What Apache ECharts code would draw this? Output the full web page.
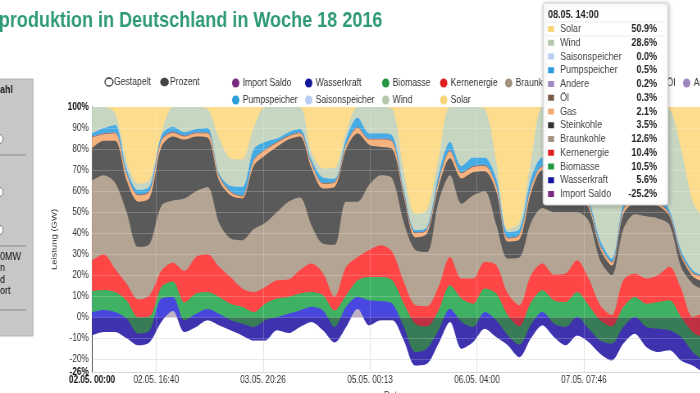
<!doctype html>
<html>
<head>
<meta charset="utf-8">
<title>Stromproduktion in Deutschland in Woche 18 2016</title>
<style>
  html, body { margin: 0; padding: 0; background: #fff; overflow: hidden; }
  /* Vorlage ist horizontal gestaucht: breiter zeichnen, dann skalieren */
  #main { width: 854px; height: 393px; transform: scaleX(0.82); transform-origin: 0 0; }
</style>
</head>
<body>
<div id="main"></div>
<script src="https://cdn.jsdelivr.net/npm/echarts@6/dist/echarts.min.js"></script>
<script>
// Stunden ab 02.05.2016 00:00, Anteile in Prozent der Last
var hours = [0, 3, 6, 9, 12, 15, 18, 21, 24, 27, 30, 33, 36, 39, 42, 45, 48, 51, 54, 57, 60, 63, 66, 69, 72, 75, 78, 81, 84, 87, 90, 93, 96, 99, 102, 105, 108, 111, 114, 117, 120, 123, 126, 129, 132, 135, 138, 141, 144, 147, 150, 153, 156, 158];

var importSaldo = [-8.6, -7, -7, -10, -13.3, -11.7, -2.2, 3, -7, -4.6, -1.4, -3.8, -6.2, -8.6, -11, -11, -6.2, -7.5, -4.6, -2.2, -6.2, -12, -4.6, 4, -3.8, -1.4, -1.4, -11, -22.9, -22.1, -12.5, -2.2, -14.9, -11.7, -5.4, -9.4, -13.3, -19, -10, -3.8, -9.4, -13.3, -8.6, -11.7, -17.3, -20.5, -12.5, -7.8, -14.1, -16.5, -15.7, -20.5, -22.9, -25.2];
var wasserkraft = [11.1, 10.5, 9.5, 9.4, 5.5, 5.5, 11.1, 6.7, 5.6, 6.3, 5.4, 5.5, 4.8, 5.6, 6.4, 9.6, 6.2, 9.2, 7.9, 7.2, 9.5, 7.4, 9.6, 5.7, 11.9, 9, 7.9, 6.4, 6.4, 7.2, 6.3, 6.3, 12.7, 7.1, 7.9, 8, 4.7, 6, 6.5, 6.3, 6.4, 8.7, 8.8, 6.3, 6.3, 8, 7.9, 8, 9.5, 11.1, 9.5, 11.1, 6.4, 5.6];
var biomasse = [10, 9.5, 9.5, 8.6, 7.8, 6.7, 5.5, 7.3, 8.4, 9.6, 8, 8, 7.9, 8, 7.1, 7.9, 8.9, 8, 8, 7, 7.2, 7.9, 5.5, 7.9, 11.1, 11.6, 11.1, 11.1, 13.5, 10.6, 9.5, 11.1, 11.1, 11.1, 11.2, 12.7, 9.6, 8.7, 10.5, 10.4, 11.1, 11.9, 11.8, 11.1, 9.6, 8.2, 9.5, 9.5, 11.1, 12.7, 14.3, 9.6, 9.5, 10.5];
var kernenergie = [14.5, 17, 11, 8, 8.5, 10, 7.6, 9, 15, 17.4, 18, 14.3, 12.5, 8.7, 9.5, 7.9, 8.7, 8.3, 11.1, 13.6, 10.5, 6.4, 13.5, 11.1, 12.8, 15.1, 13.5, 10.3, 8.7, 9.5, 11.1, 13.5, 9.5, 11.9, 12.6, 13.5, 10.3, 10, 13, 12.7, 12.2, 13.5, 15.1, 12.7, 7.1, 5.3, 12.7, 11.1, 11.9, 12.7, 15.9, 13.5, 7.2, 10.4];
var braunkohle = [38, 37.5, 41, 34, 25, 24.5, 31, 29.5, 34.5, 31.3, 32, 21, 18.5, 23, 30, 30.6, 32.4, 37, 34.6, 18.2, 14, 24.8, 31, 26.3, 31, 33.3, 34.9, 28.2, 26.3, 25.8, 40.6, 38.9, 35.6, 39.6, 33.7, 19.2, 16.7, 22.8, 25, 26.4, 29.7, 29.2, 22.9, 27.6, 21.3, 19, 24.4, 28.2, 29.6, 27, 20, 10.3, 15.8, 12.6];
var steinkohle = [15.5, 16.5, 20, 15, 21.5, 22, 28, 30.5, 28, 26, 23.5, 20, 20.5, 19.8, 30, 32, 31, 29.5, 29, 27.2, 26.3, 27.5, 25, 32.5, 19, 13.4, 14, 12.3, 6, 8.8, 7, 8, 12, 11, 9.5, 16, 8, 8.5, 14, 18, 18, 12, 8, 6, 5.5, 4.5, 7, 5, 6, 6, 4, 5, 3.5, 3.5];
var gas = [5, 3, 3.5, 3, 3, 3, 3, 1.8, 1.5, 1.5, 2, 2, 1.5, 1, 2.5, 2.5, 2, 1.5, 1.5, 2, 2.2, 2, 2, 2.5, 2.5, 3.5, 3.5, 1.7, 2, 1.7, 2.5, 3.4, 2.5, 2.5, 2.5, 2.5, 1.5, 2, 2.5, 1.5, 2.5, 2.5, 1.5, 1.5, 1.5, 1.5, 2, 2.5, 2.5, 1.5, 1, 1, 1.5, 2.1];
var oel = [0.3, 0.3, 0.3, 0.3, 0.3, 0.3, 0.3, 0.3, 0.3, 0.3, 0.3, 0.3, 0.3, 0.3, 0.3, 0.3, 0.3, 0.3, 0.3, 0.3, 0.3, 0.3, 0.3, 0.3, 0.3, 0.3, 0.3, 0.3, 0.3, 0.3, 0.3, 0.3, 0.3, 0.3, 0.3, 0.3, 0.3, 0.3, 0.3, 0.3, 0.3, 0.3, 0.3, 0.3, 0.3, 0.3, 0.3, 0.3, 0.3, 0.3, 0.3, 0.3, 0.3, 0.3];
var andere = [0.2, 0.2, 0.2, 0.2, 0.2, 0.2, 0.2, 0.2, 0.2, 0.2, 0.2, 0.2, 0.2, 0.2, 0.2, 0.2, 0.2, 0.2, 0.2, 0.2, 0.2, 0.2, 0.2, 0.2, 0.2, 0.2, 0.2, 0.2, 0.2, 0.2, 0.2, 0.2, 0.2, 0.2, 0.2, 0.2, 0.2, 0.2, 0.2, 0.2, 0.2, 0.2, 0.2, 0.2, 0.2, 0.2, 0.2, 0.2, 0.2, 0.2, 0.2, 0.2, 0.2, 0.2];
var pumpspeicher = [1.5, 2.5, 3.5, 2, 2, 2, 2, 2.3, 1.5, 1.5, 2, 1, 2.5, 4, 5, 3.5, 1.5, 1.5, 1.5, 1.5, 2.5, 1.5, 2.5, 4.5, 2.5, 2.5, 2.5, 1.5, 1, 1, 3, 4, 3, 4, 3.5, 3, 2.6, 2.5, 4, 4, 3, 2, 2, 1.7, 2.2, 1.5, 2.5, 3, 4, 3, 1.5, 1.5, 1, 0.5];
var saisonspeicher = [0, 0, 0, 0, 0, 0, 0, 0, 0, 0, 0, 0, 0, 0, 0, 0, 0, 0, 0, 0, 0, 0, 0, 0, 0, 0, 0, 0, 0, 0, 0, 0, 0, 0, 0, 0, 0, 0, 0, 0, 0, 0, 0, 0, 0, 0, 0, 0, 0, 0, 0, 0, 0, 0];
var wind = [12.5, 10, 5.5, 3.5, 3, 3, 0.5, 9.4, 12, 10.5, 9, 16.5, 13, 13, 10, 16.5, 15, 12, 10.5, 3.7, 4.3, 5, 3, 5, 12.5, 12.5, 12.5, 8, 7.5, 8, 7, 16.5, 28, 24, 23, 8, 1.4, 3, 8, 24, 26, 33, 30, 19.3, 29.3, 34, 18, 38, 39, 42, 48, 48, 32.5, 28.6];
var solar = [0, 0, 3, 26, 36.5, 34.5, 13, 0, 0, 0, 1, 15, 24.5, 25, 10, 0, 0, 0, 0, 21.3, 29.2, 29, 12, 0, 0, 0, 1, 31, 51, 49, 25, 0, 0, 0, 1, 26, 58, 55, 26, 0, 0, 0, 8, 25, 34, 38, 28, 2, 0, 0, 1, 20, 45, 50.9];

// Achsenbeschriftung (Minuten ab Start) und Gitter
var tickMinutes = [0, 1000, 2666, 4333, 6000, 7666];
var gridPercents = [-20, -10, 0, 10, 20, 30, 40, 50, 60, 70, 80, 90];

var SX = 0.82;
function X(v) { return v / SX; }
var FONT = '"Liberation Sans", Arial, sans-serif';

function fmtTime(min) {
    var d = new Date(Date.UTC(2016, 4, 2) + min * 60000);
    function p(n) { return (n < 10 ? '0' : '') + n; }
    return p(d.getUTCDate()) + '.' + p(d.getUTCMonth() + 1) + '. ' + p(d.getUTCHours()) + ':' + p(d.getUTCMinutes());
}

var importDef = { name: 'Import Saldo', data: importSaldo, color: '#7b2a82', area: 'rgba(40,0,60,0.3)' };
// Stapel ueber dem Import-Saldo, von unten nach oben
var layers = [
    { name: 'Wasserkraft', data: wasserkraft, color: '#15159e', area: '#4848e0' },
    { name: 'Biomasse', data: biomasse, color: '#22973f', area: '#3fb163' },
    { name: 'Kernenergie', data: kernenergie, color: '#e11f1f', area: '#ff4646' },
    { name: 'Braunkohle', data: braunkohle, color: '#a3927f', area: '#b3a493' },
    { name: 'Steinkohle', data: steinkohle, color: '#333333', area: '#5a5a5a' },
    { name: 'Gas', data: gas, color: '#f2ab72', area: '#f6b37f' },
    { name: 'Öl', data: oel, color: '#7a5a44', area: '#84654f' },
    { name: 'Andere', data: andere, color: '#9f88c0', area: '#a893c4' },
    { name: 'Pumpspeicher', data: pumpspeicher, color: '#2b9ddb', area: '#45ace3' },
    { name: 'Saisonspeicher', data: saisonspeicher, color: '#b8cdf2', area: '#bccff0' },
    { name: 'Wind', data: wind, color: '#b5c8af', area: '#c6d6c1' },
    { name: 'Solar', data: solar, color: '#f8d47a', area: '#fddc8e' }
];
var tooltipOrder = layers.slice().reverse().concat([importDef]);
var last = hours.length - 1;

// Jede Schicht fuellt von ihrer Unterkante bis 100 %; die naechste deckt den Rest ab
var series = [];
var lower = importSaldo.slice();
layers.forEach(function (L) {
    var edge = lower.slice();
    series.push({
        name: L.name,
        type: 'line',
        color: L.color,
        data: hours.map(function (h, j) { return [h * 60, edge[j]]; }),
        showSymbol: false,
        symbol: 'none',
        smooth: 0.3,
        lineStyle: { width: 0 },
        areaStyle: { color: L.area, opacity: 1, origin: 'end' },
        emphasis: { disabled: true },
        silent: true,
        z: 2
    });
    lower = lower.map(function (v, j) { return v + L.data[j]; });
});
series.push({
    name: importDef.name,
    type: 'line',
    color: importDef.color,
    data: hours.map(function (h, j) { return [h * 60, importSaldo[j]]; }),
    showSymbol: false,
    symbol: 'none',
    smooth: 0.3,
    lineStyle: { width: 0 },
    areaStyle: { color: importDef.area, opacity: 1, origin: 0 },
    emphasis: { disabled: true },
    silent: true,
    z: 3,
    // Gitterlinien schimmern durch die Flaechen
    markLine: {
        silent: true,
        symbol: 'none',
        label: { show: false },
        lineStyle: { color: 'rgba(255,255,255,0.2)', width: 1, type: 'solid' },
        data: gridPercents.map(function (v) { return { yAxis: v }; })
            .concat(tickMinutes.slice(1).map(function (v) { return { xAxis: v }; }))
    }
});

var legendCols = [
    { left: 232, names: ['Import Saldo', 'Pumpspeicher'] },
    { left: 305, names: ['Wasserkraft', 'Saisonspeicher'] },
    { left: 382, names: ['Biomasse', 'Wind'] },
    { left: 440, names: ['Kernenergie', 'Solar'] },
    { left: 505, names: ['Braunkohle'] },
    { left: 568, names: ['Steinkohle'] },
    { left: 624, names: ['Gas'] },
    { left: 656, names: ['Öl'] },
    { left: 683, names: ['Andere'] }
];

// Tooltip-Kasten fuer 08.05. 14:00
var tip = [
    { type: 'rect', z: 100, shape: { x: X(543), y: 3, width: X(125), height: 202, r: 3 },
      style: { fill: '#fff', stroke: '#cfcfcf', lineWidth: 1, shadowBlur: 5, shadowColor: 'rgba(0,0,0,0.22)', shadowOffsetX: 1, shadowOffsetY: 1 } },
    { type: 'text', z: 101, x: X(548), y: 15, style: { text: fmtTime(hours[last] * 60), font: 'bold 11px ' + FONT, fill: '#222', verticalAlign: 'middle' } },
    { type: 'line', z: 101, shape: { x1: X(546), y1: 22, x2: X(665), y2: 22 }, style: { stroke: '#ececec', lineWidth: 1 } },
    { type: 'line', z: 101, shape: { x1: X(546), y1: 36, x2: X(665), y2: 36 }, style: { stroke: '#ececec', lineWidth: 1 } }
];
tooltipOrder.forEach(function (s, k) {
    var cy = 29 + 13.75 * k;
    tip.push({ type: 'rect', z: 101, shape: { x: X(548), y: cy - 3, width: X(6), height: 6 }, style: { fill: s.color } });
    tip.push({ type: 'text', z: 101, x: X(560), y: cy, style: { text: s.name, font: '11px ' + FONT, fill: '#444', verticalAlign: 'middle' } });
    tip.push({ type: 'text', z: 101, x: X(657), y: cy, style: { text: s.data[last].toFixed(1) + '%', font: 'bold 11px ' + FONT, fill: '#222', align: 'right', verticalAlign: 'middle' } });
});

var chart = echarts.init(document.getElementById('main'));

chart.setOption({
    animation: false,
    backgroundColor: '#fff',
    textStyle: { fontFamily: FONT },
    grid: { left: X(92), right: 0, top: 107, bottom: 21, outerBoundsMode: 'none' },
    legend: legendCols.map(function (c) {
        return {
            orient: 'vertical',
            left: X(c.left),
            top: 77.5,
            padding: 0,
            itemGap: 6,
            itemWidth: X(9),
            itemHeight: 9,
            icon: 'circle',
            itemStyle: { borderWidth: 0 },
            textStyle: { fontSize: 10.5, color: '#333', fontFamily: FONT, padding: [0, 0, 0, -2] },
            data: c.names
        };
    }),
    xAxis: {
        type: 'value',
        min: 0,
        max: 9480,
        name: 'Datum',
        nameLocation: 'middle',
        nameGap: 19,
        nameTextStyle: { fontSize: 10, color: '#333', fontFamily: FONT },
        axisLine: { onZero: false, lineStyle: { color: '#d8d8d8' } },
        axisTick: { show: false, customValues: tickMinutes },
        splitLine: { show: true, lineStyle: { color: '#dedede' } },
        axisLabel: {
            customValues: tickMinutes,
            margin: 3,
            fontSize: 10,
            color: '#333',
            fontFamily: FONT,
            formatter: function (v) {
                var s = fmtTime(v);
                return v === 0 ? '{b|' + s + '}' : s;
            },
            rich: { b: { fontWeight: 'bold', fontSize: 10, color: '#111', fontFamily: FONT } }
        }
    },
    yAxis: {
        type: 'value',
        min: -26,
        max: 100,
        splitNumber: 12,
        name: 'Leistung (GW)',
        nameLocation: 'middle',
        nameGap: X(33),
        nameTextStyle: { fontSize: 9.5, color: '#333', fontFamily: FONT },
        axisLine: { show: true, lineStyle: { color: '#444' } },
        axisTick: { show: false },
        splitLine: { lineStyle: { color: '#e4e4e4' } },
        axisLabel: {
            margin: 4,
            fontSize: 10,
            color: '#333',
            fontFamily: FONT,
            formatter: function (v) {
                return (v === 100 || v === -26) ? '{b|' + v + '%}' : v + '%';
            },
            rich: { b: { fontWeight: 'bold', fontSize: 10, color: '#111', fontFamily: FONT } }
        }
    },
    graphic: [
        { type: 'text', x: -65, y: 21, style: { text: 'Stromproduktion in Deutschland in Woche 18 2016', font: 'bold 22px ' + FONT, fill: '#2f9a78', verticalAlign: 'middle' } },
        { type: 'ellipse', shape: { cx: X(109), cy: 82, rx: X(4), ry: 4 }, style: { fill: '#fff', stroke: '#333', lineWidth: 1.3 } },
        { type: 'text', x: X(114), y: 82, style: { text: 'Gestapelt', font: '10.5px ' + FONT, fill: '#333', verticalAlign: 'middle' } },
        { type: 'ellipse', shape: { cx: X(164.5), cy: 82, rx: X(4.3), ry: 4.3 }, style: { fill: '#444' } },
        { type: 'text', x: X(170), y: 82, style: { text: 'Prozent', font: '10.5px ' + FONT, fill: '#333', verticalAlign: 'middle' } },
        { type: 'rect', shape: { x: X(-4), y: 79, width: X(37), height: 257 }, style: { fill: '#c7c7c7', stroke: '#b3b3b3', lineWidth: 1 } },
        { type: 'text', x: 0, y: 90, style: { text: 'ahl', font: 'bold 11px ' + FONT, fill: '#222', verticalAlign: 'middle' } },
        { type: 'ellipse', shape: { cx: X(-2), cy: 139, rx: X(5), ry: 5 }, style: { fill: '#fff', stroke: '#777', lineWidth: 1 } },
        { type: 'line', shape: { x1: 0, y1: 155, x2: X(26), y2: 155 }, style: { stroke: '#888', lineWidth: 1 } },
        { type: 'ellipse', shape: { cx: X(-2), cy: 192, rx: X(5), ry: 5 }, style: { fill: '#fff', stroke: '#777', lineWidth: 1 } },
        { type: 'ellipse', shape: { cx: X(-2), cy: 230, rx: X(5), ry: 5 }, style: { fill: '#fff', stroke: '#777', lineWidth: 1 } },
        { type: 'line', shape: { x1: 0, y1: 246, x2: X(26), y2: 246 }, style: { stroke: '#888', lineWidth: 1 } },
        { type: 'text', x: 0, y: 257, style: { text: '0MW', font: '11px ' + FONT, fill: '#111', verticalAlign: 'middle' } },
        { type: 'text', x: 0, y: 268, style: { text: 'n', font: '11px ' + FONT, fill: '#111', verticalAlign: 'middle' } },
        { type: 'text', x: 0, y: 280, style: { text: 'd', font: '11px ' + FONT, fill: '#111', verticalAlign: 'middle' } },
        { type: 'text', x: 0, y: 291, style: { text: 'ort', font: '11px ' + FONT, fill: '#111', verticalAlign: 'middle' } },
        { type: 'line', shape: { x1: 0, y1: 310, x2: X(26), y2: 310 }, style: { stroke: '#888', lineWidth: 1 } }
    ].concat(tip),
    series: series
});

window.addEventListener('resize', function () {
    chart.resize();
});
</script>
</body>
</html>
